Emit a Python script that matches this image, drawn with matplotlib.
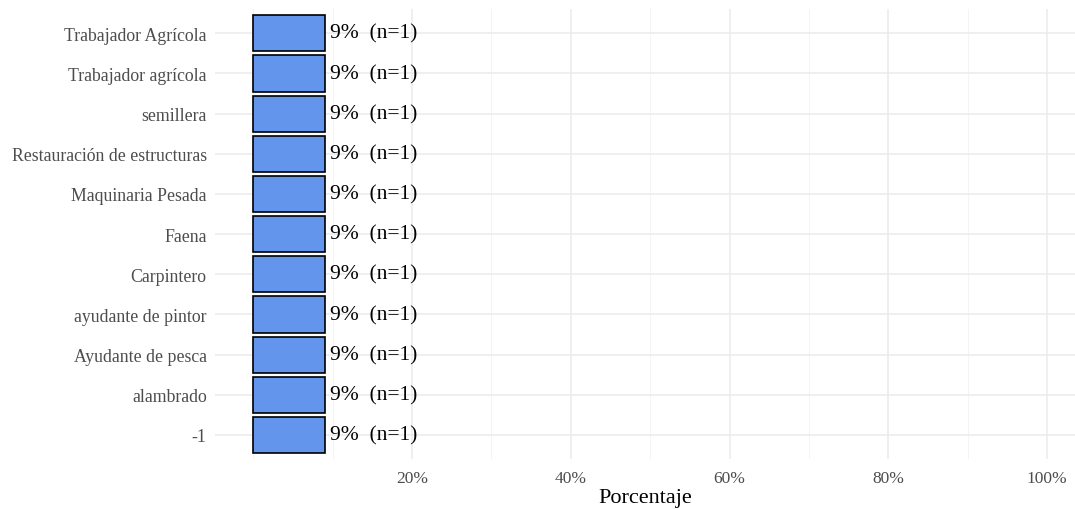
import matplotlib.pyplot as plt
import numpy as np

# categories from top to bottom as shown
categorias = ['Trabajador Agrícola', 'Trabajador agrícola', 'semillera',
              'Restauración de estructuras', 'Maquinaria Pesada', 'Faena',
              'Carpintero', 'ayudante de pintor', 'Ayudante de pesca',
              'alambrado', '-1']
conteos = [1, 1, 1, 1, 1, 1, 1, 1, 1, 1, 1]
total = 11
porcentajes = [100 * c / total for c in conteos]

x_ticks = [20, 40, 60, 80, 100]
x_minor = [0, 10, 30, 50, 70, 90]

plt.rcParams['font.family'] = ['Liberation Serif', 'DejaVu Serif']

fig = plt.figure(figsize=(10.75, 5.1), dpi=100)
ax = fig.add_axes([0.2, 0.098, 0.8, 0.882])

y = np.arange(len(categorias))[::-1]
ax.barh(y, porcentajes, height=0.9, color='#6495ED', edgecolor='black',
        linewidth=1.2, zorder=3)

for yi, p, c in zip(y, porcentajes, conteos):
    ax.text(p + 0.6, yi, f'{p:.0f}%  (n={c})', va='center', ha='left',
            fontsize=15.5, color='black', zorder=4)

ax.set_xlim(-4.8, 103.5)
ax.set_ylim(-0.6, len(categorias) - 0.4)
ax.set_yticks(y)
ax.set_yticklabels(categorias, fontsize=12.8, color='#4D4D4D')
ax.set_xticks(x_ticks)
ax.set_xticklabels([f'{t}%' for t in x_ticks], fontsize=12.5, color='#4D4D4D')
ax.set_xticks(x_minor, minor=True)
ax.tick_params(axis='both', which='both', length=0)
ax.tick_params(axis='y', pad=6)
ax.tick_params(axis='x', pad=8)

ax.grid(axis='x', which='major', color='#EBEBEB', linewidth=1.1, zorder=0)
ax.grid(axis='x', which='minor', color='#F2F2F2', linewidth=0.6, zorder=0)
ax.grid(axis='y', which='major', color='#EBEBEB', linewidth=1.1, zorder=0)
for s in ax.spines.values():
    s.set_visible(False)

ax.set_xlabel('Porcentaje', fontsize=16, color='black', labelpad=1)

fig.savefig('out.png', dpi=100)
